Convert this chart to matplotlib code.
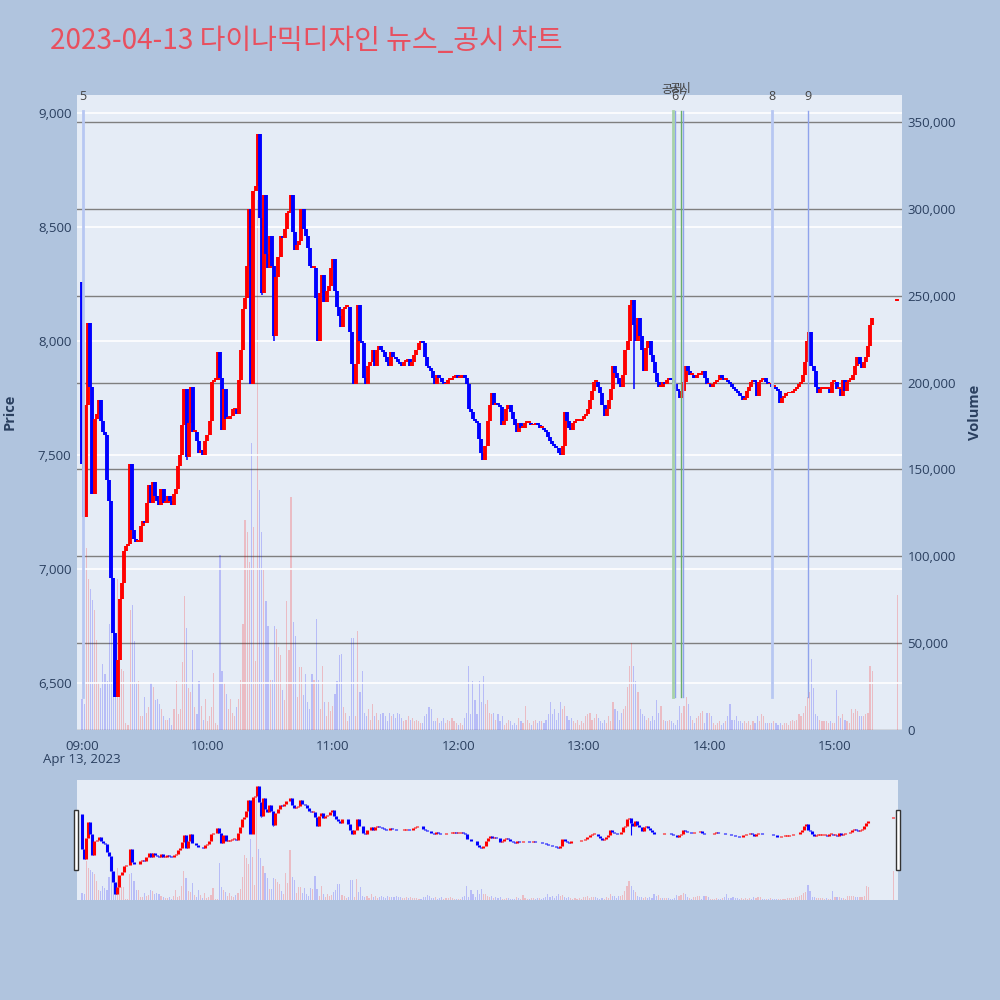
import numpy as np
import pandas as pd
import matplotlib
matplotlib.use("Agg")
import matplotlib.pyplot as plt
import matplotlib.dates as mdates
import matplotlib.transforms as mtransforms
from matplotlib.patches import Rectangle
from matplotlib.ticker import FuncFormatter

plt.rcParams['font.family'] = ['Open Sans', 'Noto Sans CJK KR', 'DejaVu Sans']

day = "2023-04-13"
first_open = 8260

# minute closes from 09:00 to 15:18, ten per row
close = [
    7460, 7230, 7720, 8080, 7800, 7330, 7660, 7680, 7740, 7650,
    7600, 7590, 7390, 7300, 6960, 6720, 6440, 6600, 6870, 6940,
    7080, 7100, 7110, 7460, 7170, 7130, 7120, 7120, 7190, 7210,
    7200, 7290, 7370, 7290, 7380, 7320, 7300, 7280, 7350, 7290,
    7290, 7320, 7300, 7280, 7330, 7350, 7450, 7500, 7630, 7790,
    7490, 7640, 7800, 7600, 7600, 7560, 7510, 7520, 7500, 7560,
    7590, 7650, 7820, 7830, 7830, 7950, 7840, 7610, 7790, 7660,
    7660, 7670, 7700, 7700, 7680, 7830, 7960, 8140, 8190, 8330,
    8580, 7810, 8660, 8680, 8910, 8540, 8210, 8640, 8380, 8320,
    8460, 8330, 8020, 8280, 8370, 8460, 8450, 8490, 8560, 8570,
    8640, 8480, 8400, 8420, 8440, 8580, 8490, 8460, 8410, 8330,
    8320, 8320, 8190, 8000, 8210, 8290, 8170, 8220, 8240, 8320,
    8360, 8220, 8150, 8110, 8060, 8140, 8150, 8150, 8040, 7900,
    7810, 7900, 8160, 8000, 7990, 7840, 7810, 7890, 7910, 7960,
    7890, 7960, 7980, 7960, 7950, 7930, 7910, 7890, 7950, 7930,
    7920, 7910, 7900, 7890, 7910, 7910, 7920, 7890, 7910, 7940,
    7960, 7990, 8000, 7990, 7930, 7890, 7880, 7870, 7840, 7810,
    7850, 7840, 7820, 7810, 7810, 7830, 7830, 7840, 7840, 7850,
    7840, 7840, 7850, 7840, 7810, 7700, 7690, 7660, 7650, 7640,
    7570, 7510, 7480, 7540, 7650, 7720, 7770, 7720, 7730, 7720,
    7710, 7630, 7650, 7700, 7720, 7690, 7660, 7630, 7600, 7640,
    7620, 7620, 7640, 7640, 7640, 7630, 7630, 7640, 7630, 7620,
    7620, 7610, 7600, 7580, 7560, 7550, 7540, 7530, 7510, 7500,
    7540, 7690, 7650, 7620, 7610, 7640, 7650, 7650, 7650, 7660,
    7670, 7680, 7700, 7740, 7780, 7820, 7820, 7800, 7770, 7720,
    7670, 7700, 7740, 7790, 7890, 7860, 7840, 7810, 7800, 7850,
    7960, 8000, 8160, 8180, 8070, 8000, 8100, 8020, 7960, 7870,
    7970, 8000, 7940, 7910, 7860, 7820, 7800, 7800, 7820, 7810,
    7830, 7840, 7830, 7810, 7790, 7780, 7750, 7780, 7820, 7890,
    7870, 7850, 7850, 7840, 7850, 7850, 7860, 7870, 7840, 7810,
    7810, 7800, 7810, 7820, 7830, 7850, 7840, 7830, 7830, 7820,
    7810, 7800, 7790, 7780, 7770, 7760, 7740, 7750, 7780, 7800,
    7820, 7830, 7820, 7760, 7820, 7830, 7840, 7820, 7810, 7810,
    7800, 7800, 7790, 7780, 7730, 7750, 7760, 7770, 7770, 7770,
    7780, 7790, 7800, 7810, 7820, 7850, 7910, 8000, 8040, 7890,
    7870, 7800, 7770, 7790, 7790, 7790, 7790, 7790, 7770, 7820,
    7820, 7790, 7790, 7760, 7830, 7780, 7820, 7830, 7830, 7850,
    7890, 7930, 7900, 7880, 7910, 7930, 7980, 8070, 8100,
]

# minute volumes, same minutes as close
volume = [
    18000, 15000, 105000, 87000, 81000, 75000, 69000, 52000, 27000, 24000,
    38000, 32000, 28000, 61000, 84000, 56000, 38000, 87000, 38000, 35000,
    34000, 4000, 3000, 69000, 72000, 51000, 27000, 28000, 8000, 8000,
    19000, 10000, 13000, 27000, 25000, 17000, 18000, 15000, 12000, 8000,
    6000, 6000, 7000, 3000, 12000, 28000, 9000, 12000, 39000, 77000,
    59000, 24000, 22000, 46000, 13000, 9000, 28000, 14000, 6000, 18000,
    5000, 8000, 13000, 33000, 4000, 3000, 101000, 34000, 27000, 21000,
    12000, 18000, 10000, 8000, 13000, 18000, 29000, 61000, 121000, 114000,
    97000, 165000, 117000, 40000, 305000, 138000, 114000, 92000, 74000, 60000,
    29000, 29000, 60000, 58000, 48000, 43000, 23000, 17000, 74000, 46000,
    134000, 62000, 54000, 19000, 36000, 36000, 20000, 32000, 16000, 12000,
    32000, 29000, 64000, 29000, 12000, 37000, 16000, 8000, 16000, 11000,
    14000, 21000, 28000, 43000, 44000, 13000, 10000, 5000, 8000, 53000,
    53000, 8000, 57000, 22000, 34000, 10000, 8000, 12000, 6000, 15000,
    8000, 10000, 6000, 9000, 10000, 8000, 5000, 10000, 8000, 9000,
    7000, 10000, 9000, 7000, 5000, 6000, 8000, 6000, 7000, 5000,
    6000, 5000, 4000, 4000, 8000, 9000, 13000, 12000, 5000, 5000,
    7000, 4000, 5000, 7000, 4000, 6000, 5000, 7000, 5000, 4000,
    3000, 4000, 3000, 7000, 10000, 37000, 9000, 28000, 17000, 9000,
    28000, 16000, 31000, 15000, 17000, 10000, 9000, 10000, 6000, 9000,
    5000, 8000, 3000, 4000, 6000, 5000, 3000, 4000, 3000, 7000,
    5000, 4000, 14000, 6000, 4000, 3000, 5000, 6000, 4000, 5000,
    5000, 4000, 6000, 9000, 16000, 9000, 12000, 6000, 10000, 16000,
    12000, 14000, 8000, 6000, 7000, 5000, 4000, 6000, 3000, 5000,
    4000, 8000, 9000, 10000, 6000, 7000, 9000, 7000, 5000, 4000,
    6000, 4000, 8000, 5000, 16000, 12000, 11000, 6000, 10000, 12000,
    14000, 25000, 37000, 50000, 37000, 28000, 22000, 12000, 9000, 8000,
    6000, 7000, 5000, 8000, 6000, 17000, 10000, 14000, 6000, 5000,
    5000, 6000, 5000, 4000, 3000, 6000, 14000, 10000, 14000, 19000,
    15000, 8000, 6000, 4000, 7000, 8000, 10000, 11000, 4000, 10000,
    10000, 8000, 4000, 3000, 4000, 5000, 3000, 4000, 5000, 8000,
    15000, 6000, 6000, 8000, 5000, 5000, 4000, 5000, 4000, 5000,
    3000, 5000, 4000, 8000, 5000, 9000, 8000, 4000, 4000, 4000,
    4000, 5000, 4000, 3000, 4000, 3000, 4000, 4000, 3000, 5000,
    6000, 5000, 6000, 9000, 8000, 10000, 14000, 19000, 22000, 41000,
    24000, 9000, 8000, 6000, 5000, 5000, 5000, 4000, 5000, 4000,
    4000, 23000, 8000, 7000, 9000, 6000, 5000, 4000, 12000, 10000,
    12000, 11000, 8000, 8000, 8000, 9000, 10000, 37000, 34000,
]

# closing auction print
close_auction_time = "15:30"
close_auction_price = 8180
close_auction_volume = 78000

# long lower wicks
wick_times = ["09:50", "10:26", "10:32", "13:24"]
wick_lows = [7480, 8200, 8000, 7790]

# marker lines above the chart
event_times = ["09:00:15", "13:43:30", "13:47:35", "14:30:00", "14:47:25"]
event_labels = ["5", "6", "7", "8", "9"]
notice_times = ["13:42:50", "13:46:40"]
notice_label = "공시"

price_ticks = [6500, 7000, 7500, 8000, 8500, 9000]
volume_ticks = [0, 50000, 100000, 150000, 200000, 250000, 300000, 350000]
hour_ticks = ["09:00", "10:00", "11:00", "12:00", "13:00", "14:00", "15:00"]

# ---------------------------------------------------------------
t0 = pd.Timestamp(day + " 09:00")
times = pd.date_range(t0, periods=len(close), freq="min")
tnum = mdates.date2num(times.to_pydatetime())
opens = [first_open] + close[:-1]
minute = 1.0 / 1440.0

def ts(hhmm):
    return mdates.date2num(pd.Timestamp(day + " " + hhmm).to_pydatetime())

RED = "#FF0000"
BLUE = "#0000FF"
cols = [RED if c >= o else BLUE for o, c in zip(opens, close)]

fig = plt.figure(figsize=(10, 10), dpi=100, facecolor="#B0C4DE")
ax = fig.add_axes([0.077, 0.270, 0.825, 0.635])
ax2 = ax.twinx()
ax.set_zorder(3)
ax2.set_zorder(2)
ax.patch.set_visible(False)
ax2.patch.set_visible(True)
ax2.patch.set_facecolor("#E5ECF6")

xlim = (mdates.date2num(t0.to_pydatetime()) - 2.4 * minute,
        mdates.date2num(t0.to_pydatetime()) + 392.3 * minute)

def draw_candles(a, lw, wick_lw):
    lo = [min(o, c) for o, c in zip(opens, close)]
    hi = [max(o, c) for o, c in zip(opens, close)]
    hi = [h if h - l > 8 else l + 8 for l, h in zip(lo, hi)]
    a.vlines(tnum, lo, hi, colors=cols, lw=lw, zorder=4)
    wt = [ts(t) for t in wick_times]
    idx = [int(round((w - tnum[0]) / minute)) for w in wt]
    wc = [cols[i] for i in idx]
    wtop = [min(opens[i], close[i]) for i in idx]
    a.vlines(wt, wick_lows, wtop, colors=wc, lw=wick_lw, zorder=4)
    ta = ts(close_auction_time)
    a.vlines([ta], [close_auction_price - 6], [close_auction_price + 6],
             colors=RED, lw=lw, zorder=4)

def draw_volume(a, width):
    vcols = [(1, 0, 0, 0.2) if c == RED else (0, 0, 1, 0.2) for c in cols]
    a.bar(tnum, volume, width=width * minute, color=vcols, zorder=2)
    a.bar([ts(close_auction_time)], [close_auction_volume], width=width * minute,
          color=[(1, 0, 0, 0.2)], zorder=2)

# main chart
draw_candles(ax, 2.8, 1.1)
draw_volume(ax2, 0.55)

ax.set_xlim(*xlim)
ax.set_ylim(6294, 9079)
ax2.set_ylim(0, 365600)

ax.set_yticks(price_ticks)
ax.yaxis.set_major_formatter(FuncFormatter(lambda v, p: f"{v:,.0f}"))
ax2.set_yticks(volume_ticks)
ax2.yaxis.set_major_formatter(FuncFormatter(lambda v, p: f"{v:,.0f}"))
ax.grid(axis="y", color="white", lw=1.2, zorder=0)
ax2.grid(axis="y", color="#7f7f7f", lw=1.0, zorder=0)
ax.set_axisbelow(True)
ax2.set_axisbelow(True)

ax.set_xticks([ts(h) for h in hour_ticks])
ax.xaxis.set_major_formatter(mdates.DateFormatter("%H:%M"))
tick_color = "#2a3f5f"
for a in (ax, ax2):
    a.tick_params(length=0, labelsize=9.5, labelcolor=tick_color)
    for s in a.spines.values():
        s.set_visible(False)
ax.tick_params(axis="x", pad=7)
ax.tick_params(axis="y", pad=4)
ax2.tick_params(axis="y", pad=4)

trans = mtransforms.blended_transform_factory(ax.transData, ax.transAxes)
ax.text(ts("09:00"), -0.046, "Apr 13, 2023", transform=trans, ha="center",
        va="center", fontsize=9.5, color=tick_color)

fig.text(0.010, 0.588, "Price", rotation=90, ha="center", va="center",
         fontsize=10.5, fontweight="bold", color=tick_color)
fig.text(0.975, 0.588, "Volume", rotation=90, ha="center", va="center",
         fontsize=10.5, fontweight="bold", color=tick_color)

# event lines
line_styles = {
    "5": ("#B7C7F2", 2.0), "6": ("#8FA3EC", 1.0), "7": ("#8FA3EC", 1.0),
    "8": ("#B7C7F2", 2.0), "9": ("#8FA3EC", 1.0),
}
for t, lab in zip(event_times, event_labels):
    c, w = line_styles[lab]
    ax.axvline(ts(t), ymin=0.052, ymax=0.975, color=c, lw=w, zorder=5)
    ax.text(ts(t), 0.997, lab, transform=trans, ha="center", va="center",
            fontsize=9, color="#444444", clip_on=False)
for t, c, w in zip(notice_times, ["#A8D2A8", "#6AAE6A"], [2.0, 1.0]):
    ax.axvline(ts(t), ymin=0.052, ymax=0.975, color=c, lw=w, zorder=5)
for t, dy in zip(notice_times, [1.008, 1.011]):
    ax.text(ts(t) - 0.5 * minute, dy, notice_label, transform=trans, ha="center",
            va="center", fontsize=8.5, color="#444444", clip_on=False,
            family=["Noto Sans CJK KR", "DejaVu Sans"])

fig.text(0.050, 0.959, f"{day} 다이나믹디자인 뉴스_공시 차트", ha="left",
         va="center", fontsize=20.2, color="#E8505F",
         family=["Noto Sans CJK KR", "DejaVu Sans"])

# range slider
axs = fig.add_axes([0.077, 0.100, 0.821, 0.120])
axs2 = axs.twinx()
axs.set_zorder(3)
axs2.set_zorder(2)
axs.patch.set_visible(False)
axs2.patch.set_visible(True)
axs2.patch.set_facecolor("#E5ECF6")
draw_candles(axs, 2.2, 0.8)
draw_volume(axs2, 0.55)
axs.set_xlim(*xlim)
axs.set_ylim(6306, 9039)
axs2.set_ylim(0, 324000)
for a in (axs, axs2):
    a.set_xticks([])
    a.set_yticks([])
    for s in a.spines.values():
        s.set_visible(False)

for x0 in (0.074, 0.896):
    fig.add_artist(Rectangle((x0, 0.130), 0.004, 0.060, transform=fig.transFigure,
                             facecolor="white", edgecolor="#333333", lw=1.0,
                             zorder=10))

fig.savefig("out.png", dpi=100, facecolor=fig.get_facecolor())
